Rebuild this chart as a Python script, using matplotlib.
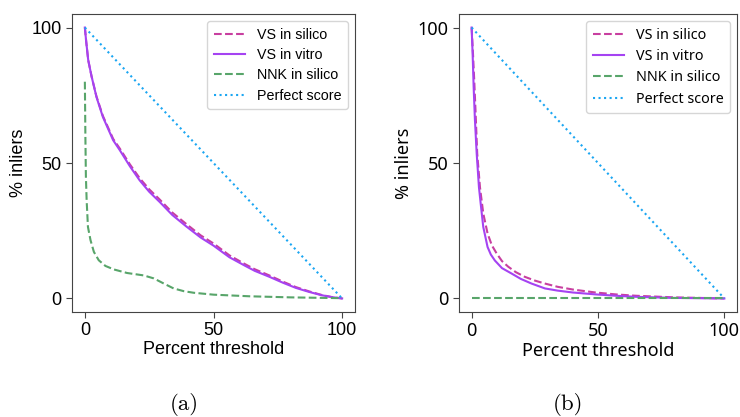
import matplotlib
matplotlib.use("Agg")
import matplotlib.pyplot as plt

# panel (a)
a_x_vs = [0, 0.5, 1.3, 2.6, 4.5, 7, 11, 13.6, 17.5, 21.3, 25, 29.1, 34, 39.4, 45, 50,
          56.2, 62, 66, 71.7, 77, 82, 87.2, 92, 96, 100]
a_vitro = [100, 95, 88, 82, 74.4, 67, 58.4, 54.7, 48.8, 43.6, 39.4, 35.6, 30.8, 26.6, 22.5, 19.5,
           15.2, 12.2, 10.2, 8, 5.8, 3.9, 2.4, 1.2, 0.5, 0]
a_silico = [100, 95, 88, 82, 74.6, 67.4, 58.9, 55.3, 49.5, 44.4, 40.3, 36.5, 31.7, 27.5, 23.3, 20.3,
            15.9, 12.8, 10.8, 8.5, 6.2, 4.2, 2.6, 1.3, 0.5, 0]
a_x_nnk = [0, 0.2, 0.4, 0.7, 1.2, 2.2, 3.5, 5.4, 8, 11.3, 16.4, 22.9, 26.8, 30.7, 34.5,
           38.4, 42.3, 50, 64, 80, 100]
a_nnk = [80, 60, 45, 36, 26.4, 21.5, 17.2, 14.1, 12, 10.7, 9.4, 8.5, 7.4, 5.5, 3.7,
         2.7, 2.1, 1.4, 0.8, 0.4, 0.1]

# panel (b)
b_x_vitro = [0, 0.4, 0.8, 1.3, 2, 2.9, 3.7, 4.6, 6.3, 7.6, 9.2, 12, 15.8, 19.5, 23.7, 29,
             34, 40, 49, 57, 65, 80, 100]
b_vitro = [100, 90, 78, 66, 53.5, 41, 34, 26.4, 19, 16.2, 14, 11.2, 9.2, 7.2, 5.5, 3.7,
           2.9, 2.2, 1.5, 1, 0.6, 0.2, 0]
b_x_silico = [0, 0.5, 1, 1.5, 2.2, 3.3, 4.6, 6.3, 8, 9.9, 12, 14.5, 17.5, 21, 25, 29,
              34, 40, 49, 57, 65, 80, 100]
b_silico = [100, 91, 81, 70, 53.5, 41, 31.4, 24, 19.6, 16.6, 13.8, 11.7, 9.7, 8, 6.6, 5.5,
            4.3, 3.3, 2.2, 1.5, 1, 0.4, 0]
b_x_nnk = [0, 100]
b_nnk = [0, 0]

perfect_x = [0, 100]
perfect_y = [100, 0]

C_SILICO = "#c83fa0"
C_VITRO = "#a543f2"
C_NNK = "#58a56a"
C_PERF = "#1ba6f2"


def draw_panel(ax, xs, ys, xv, yv, xn, yn, font):
    ax.plot(xs, ys, "--", color=C_SILICO, lw=1.5, label="VS in silico")
    ax.plot(xv, yv, "-", color=C_VITRO, lw=1.5, label="VS in vitro")
    ax.plot(xn, yn, "--", color=C_NNK, lw=1.5, label="NNK in silico")
    ax.plot(perfect_x, perfect_y, ":", color=C_PERF, lw=1.5, label="Perfect score")
    ax.set_xticks([0, 50, 100])
    ax.set_yticks([0, 50, 100])
    for lab in ax.get_xticklabels() + ax.get_yticklabels():
        lab.set_fontfamily(font)
        lab.set_fontsize(13)
    ax.tick_params(color="#444444", length=4)
    for s in ax.spines.values():
        s.set_color("#444444")
    ax.set_xlabel("Percent threshold", fontsize=13, family=font, labelpad=1)
    ax.set_ylabel("% inliers", fontsize=13, family=font, labelpad=3)
    ax.legend(loc="upper right", prop={"family": font, "size": 10.3},
              handlelength=2.2, borderpad=0.45, labelspacing=0.45)


fig = plt.figure(figsize=(7.4, 4.17), dpi=100)
ax1 = fig.add_axes([72 / 740, 1 - 312 / 417, 283 / 740, 298 / 417])
ax2 = fig.add_axes([459 / 740, 1 - 312 / 417, 278 / 740, 298 / 417])

draw_panel(ax1, a_x_vs, a_silico, a_x_vs, a_vitro, a_x_nnk, a_nnk, "Liberation Sans")
draw_panel(ax2, b_x_silico, b_silico, b_x_vitro, b_vitro, b_x_nnk, b_nnk, "Noto Sans")

fig.text(184 / 740, 1 - 405 / 417, "(a)", family="cmr10", fontsize=16.5, ha="center", va="center")
fig.text(568 / 740, 1 - 405 / 417, "(b)", family="cmr10", fontsize=16.5, ha="center", va="center")

fig.savefig("out.png", dpi=100)
